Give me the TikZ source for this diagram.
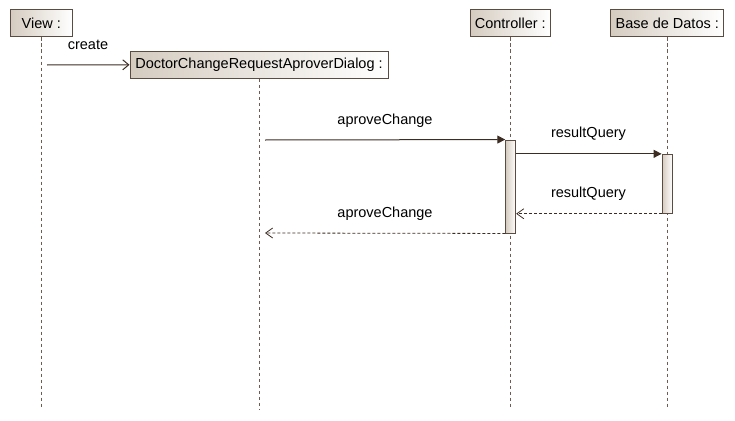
\documentclass[tikz,border=0pt]{standalone}
\usepackage{fontspec}
\setmainfont{Liberation Sans}
\usetikzlibrary{arrows.meta}
\definecolor{boxline}{HTML}{5B4C42}
\definecolor{boxtan}{HTML}{D5CCC0}
\definecolor{lifeline}{HTML}{6E5C50}
\definecolor{msgline}{HTML}{3C2C22}
\begin{document}
\begin{tikzpicture}[x=1pt,y=-1pt,
  obj/.style={draw=boxline, line width=1pt, left color=boxtan, right color=white,
    minimum height=27pt, inner sep=0pt, font=\fontsize{14.5}{16}\selectfont, text=black},
  bar/.style={draw=boxline, line width=0.9pt, left color=boxtan, right color=white,
    inner sep=0pt, minimum width=10pt},
  lline/.style={draw=lifeline, line width=0.8pt, dash pattern=on 3.5pt off 2.5pt},
  call/.style={draw=msgline, line width=1pt, -{Triangle[length=8pt,width=8pt]}},
  create/.style={draw=msgline, line width=1pt, -{Straight Barb[length=6pt,width=10pt]}},
  reply/.style={draw=msgline, line width=0.8pt, dash pattern=on 3pt off 2pt, -{Straight Barb[length=7pt,width=10pt,line width=0.8pt]}},
  lbl/.style={font=\fontsize{14.5}{16}\selectfont, inner sep=0pt}]
\useasboundingbox (0,0) rectangle (735,420);

% objects
\node[obj, minimum width=62pt] (view) at (41.3,23.5) {View :};
\node[obj, minimum width=258pt] (dialog) at (259,64.8) {DoctorChangeRequestAproverDialog :};
\node[obj, minimum width=80pt] (ctrl) at (510.3,23.5) {Controller :};
\node[obj, minimum width=113pt] (db) at (667.3,23.5) {Base de Datos :};

% lifeline ends
\coordinate (viewend) at (41.3,408);
\coordinate (dialogend) at (259,410);
\coordinate (ctrlend) at (510.3,408);
\coordinate (dbend) at (667.3,408);

\draw[lline] (view.south) -- (viewend);
\draw[lline] (dialog.south) -- (dialogend);
\draw[lline] (ctrl.south) -- (ctrlend);
\draw[lline] (db.south) -- (dbend);

% activation bars
\node[bar, minimum height=93pt] (ctrlbar) at (510.7,186.5) {};
\node[bar, minimum height=59pt, minimum width=10.5pt] (dbbar) at (667.3,183.8) {};

% messages
\coordinate (createstart) at (47,65);
\draw[create] (createstart) -- (dialog.west);
\node[lbl] (createlbl) at (88,45) {create};

\coordinate (m1start) at (265,140);
\draw[call] (m1start) -- (ctrlbar.north west);
\node[lbl] (m1lbl) at (385,120.5) {aproveChange};

\coordinate (m2start) at (ctrlbar.east |- dbbar.north);
\draw[call] (m2start) -- (dbbar.north west);
\node[lbl] (m2lbl) at (588.5,134) {resultQuery};

\coordinate (m3end) at (ctrlbar.east |- dbbar.south);
\draw[reply] (dbbar.south west) -- (m3end);
\node[lbl] (m3lbl) at (588.5,194) {resultQuery};

\coordinate (m4end) at (265,233);
\draw[reply] (ctrlbar.south west) -- (m4end);
\node[lbl] (m4lbl) at (385,214) {aproveChange};
\end{tikzpicture}
\end{document}
